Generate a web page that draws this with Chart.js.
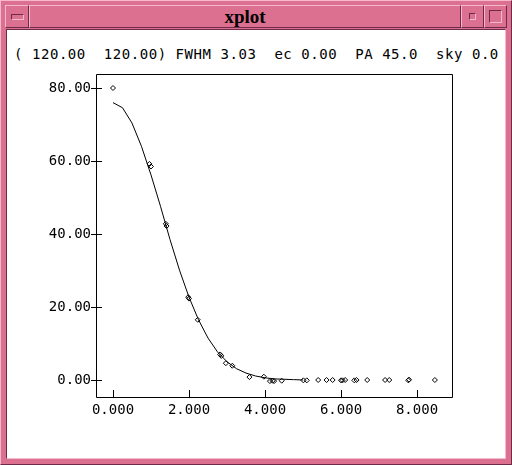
<!DOCTYPE html>
<html>
<head>
<meta charset="utf-8">
<script src="https://cdn.jsdelivr.net/npm/chart.js@4/dist/chart.umd.min.js"></script>
<style>
  html,body{margin:0;padding:0;background:#fff;}
  #win{position:absolute;left:0;top:0;width:512px;height:465px;background:#dc7090;overflow:hidden;}
  .bev{position:absolute;box-sizing:border-box;border:1px solid;border-color:#f6b8cc #6e2a48 #6e2a48 #f6b8cc;}
  #inner{position:absolute;left:6px;top:29px;width:500px;height:430px;background:#fff;box-sizing:border-box;border:1px solid;border-color:#6e2a48 #f6b8cc #f6b8cc #6e2a48;}
  #title{position:absolute;left:29px;top:5px;width:432px;height:23px;text-align:center;font:bold 19px "Liberation Serif","DejaVu Serif",serif;line-height:22px;color:#000;}
  #hdr{position:absolute;left:14px;top:45px;font:14px "DejaVu Sans Mono",monospace;letter-spacing:0.55px;white-space:pre;color:#000;line-height:18px;}
  canvas{position:absolute;left:0;top:0;}
</style>
</head>
<body>
<div id="win">
  <div class="bev" style="left:0;top:0;width:512px;height:465px;"></div>
  <div class="bev" style="left:5px;top:5px;width:24px;height:23px;"></div>
  <div class="bev" style="left:11px;top:14px;width:13px;height:6px;border-color:#6e2a48 #f6b8cc #f6b8cc #6e2a48;"></div>
  <div class="bev" id="title">xplot</div>
  <div class="bev" style="left:461px;top:5px;width:23px;height:23px;"></div>
  <div class="bev" style="left:469px;top:13px;width:7px;height:7px;border-color:#6e2a48 #f6b8cc #f6b8cc #6e2a48;"></div>
  <div class="bev" style="left:484px;top:5px;width:23px;height:23px;"></div>
  <div class="bev" style="left:489px;top:10px;width:13px;height:13px;border-color:#6e2a48 #f6b8cc #f6b8cc #6e2a48;"></div>
  <div id="inner"></div>
  <div id="hdr">( 120.00  120.00) FWHM 3.03  ec 0.00  PA 45.0  sky 0.0</div>
</div>
<canvas id="c" width="512" height="465"></canvas>
<script>
// Measured data points (radius, intensity)
const pointX = [0.00, 0.96, 1.00, 1.39, 1.41, 1.98, 2.00, 2.23, 2.82, 2.85, 2.97, 3.14, 3.59, 3.97,
                4.13, 4.20, 4.24, 4.44, 5.01, 5.10, 5.40, 5.62, 5.78, 6.00, 6.04, 6.11, 6.35, 6.41,
                6.69, 7.16, 7.27, 7.77, 7.79, 8.47];
const pointY = [80.0, 59.2, 58.5, 42.8, 42.2, 22.7, 22.3, 16.5, 7.0, 6.6, 4.6, 3.9, 0.8, 0.9,
                -0.3, -0.2, -0.3, -0.2, -0.1, -0.1, 0.0, 0.0, 0.0, -0.1, -0.1, 0.0, -0.1, 0.0,
                0.0, 0.0, 0.0, -0.1, 0.1, 0.0];
// Fitted profile curve
const curveX = [0.00, 0.25, 0.50, 0.75, 1.00, 1.25, 1.50, 1.75, 2.00, 2.25, 2.50, 2.75, 3.00,
                3.25, 3.50, 3.75, 4.00, 4.25, 4.50, 4.75, 5.00];
const curveY = [76.0, 74.6, 70.4, 64.0, 56.2, 47.6, 38.5, 30.1, 22.7, 16.5, 11.5, 7.7, 5.0,
                3.1, 1.9, 1.1, 0.6, 0.3, 0.2, 0.1, 0.0];
// Axis ticks
const xTicks = [0, 2, 4, 6, 8];
const xTickLabels = ["0.000", "2.000", "4.000", "6.000", "8.000"];
const yTicks = [0, 20, 40, 60, 80];
const yTickLabels = ["0.00", "20.00", "40.00", "60.00", "80.00"];

const pts = pointX.map((x, i) => ({x: x, y: pointY[i]}));
const crv = curveX.map((x, i) => ({x: x, y: curveY[i]}));

const tickFont = {family: "DejaVu Sans Mono", size: 14};

const frame = {
  id: 'frame',
  afterDraw(chart) {
    const ctx = chart.ctx, a = chart.chartArea;
    const xs = chart.scales.x, ys = chart.scales.y;
    ctx.save();
    ctx.strokeStyle = '#000';
    ctx.lineWidth = 1;
    ctx.beginPath();
    ctx.rect(Math.round(a.left) + 0.5, Math.round(a.top) + 0.5,
             Math.round(a.right - a.left), Math.round(a.bottom - a.top));
    yTicks.forEach(v => {
      const py = Math.round(ys.getPixelForValue(v)) + 0.5;
      ctx.moveTo(a.left - 5, py); ctx.lineTo(a.left + 6, py);
    });
    xTicks.forEach(v => {
      const px = Math.round(xs.getPixelForValue(v)) + 0.5;
      ctx.moveTo(px, a.bottom); ctx.lineTo(px, a.bottom - 7);
    });
    ctx.stroke();
    ctx.restore();
  }
};

new Chart(document.getElementById('c'), {
  type: 'scatter',
  data: {
    datasets: [
      {label: 'profile', data: crv, showLine: true, borderColor: '#000', borderWidth: 1,
       pointRadius: 0, tension: 0, order: 2},
      {label: 'data', data: pts, showLine: false, pointStyle: 'rectRot', pointRadius: 2.5,
       borderColor: '#000', borderWidth: 1, backgroundColor: 'rgba(0,0,0,0)', order: 1}
    ]
  },
  options: {
    responsive: false,
    devicePixelRatio: 1,
    animation: false,
    layout: {padding: {left: 0, top: 74, right: 60, bottom: 0}},
    plugins: {legend: {display: false}, tooltip: {enabled: false}},
    scales: {
      x: {
        type: 'linear', min: -0.447, max: 8.921,
        grid: {display: false, drawTicks: false}, border: {display: false},
        afterBuildTicks: s => { s.ticks = xTicks.map(v => ({value: v})); },
        afterFit: s => { s.height = 68; },
        ticks: {color: '#000', font: tickFont, padding: 5, maxRotation: 0, autoSkip: false,
                callback: (v) => xTickLabels[xTicks.indexOf(v)]}
      },
      y: {
        type: 'linear', min: -4.66, max: 83.84,
        grid: {display: false, drawTicks: false}, border: {display: false},
        afterBuildTicks: s => { s.ticks = yTicks.map(v => ({value: v})); },
        afterFit: s => { s.width = 96; },
        ticks: {color: '#000', font: tickFont, padding: 5, autoSkip: false,
                callback: (v) => yTickLabels[yTicks.indexOf(v)]}
      }
    }
  },
  plugins: [frame]
});
</script>
</body>
</html>
